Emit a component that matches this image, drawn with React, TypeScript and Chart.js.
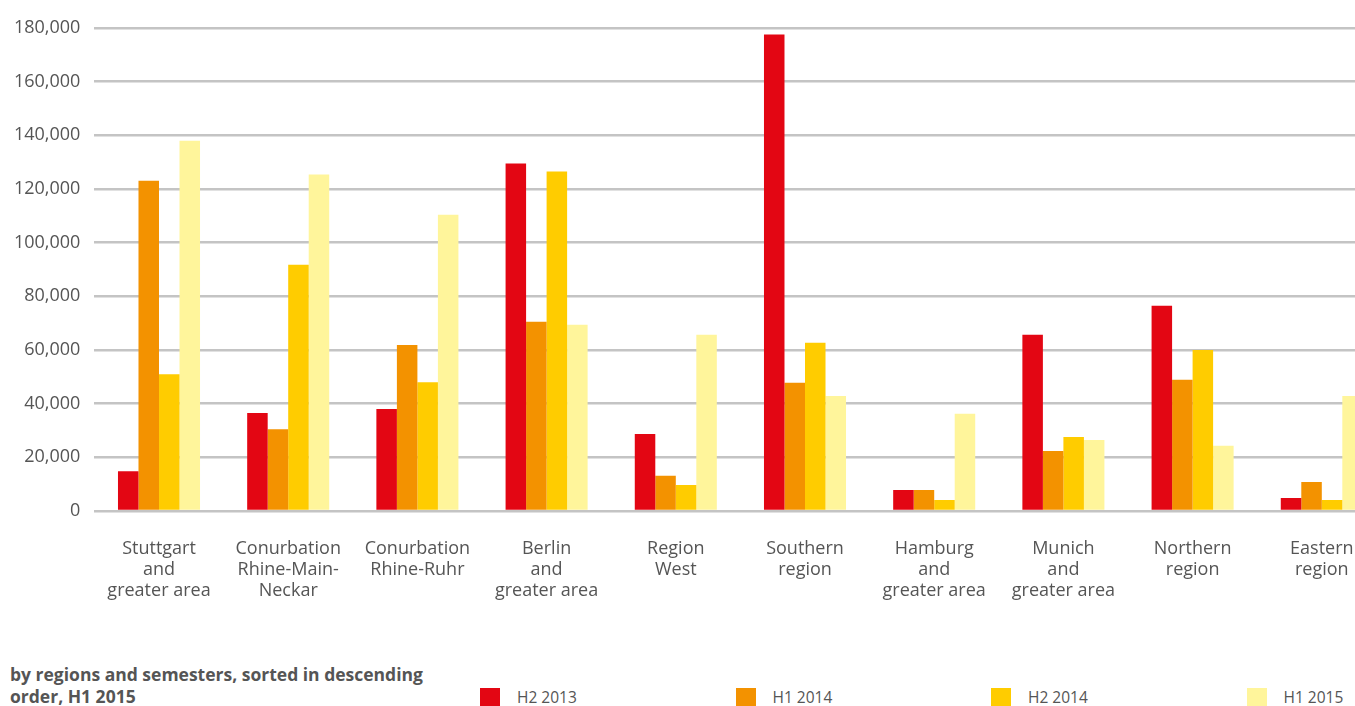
import React, { useEffect, useRef } from "react";
import { Chart, registerables } from "chart.js";

Chart.register(...registerables);

const categories: string[][] = [
  ["Stuttgart", "and", "greater area"],
  ["Conurbation", "Rhine-Main-", "Neckar"],
  ["Conurbation", "Rhine-Ruhr"],
  ["Berlin", "and", "greater area"],
  ["Region", "West"],
  ["Southern", "region"],
  ["Hamburg", "and", "greater area"],
  ["Munich", "and", "greater area"],
  ["Northern", "region"],
  ["Eastern", "region"],
];

const seriesNames = ["H2 2013", "H1 2014", "H2 2014", "H1 2015"];
const seriesColors = ["#E30613", "#F39200", "#FFCC00", "#FFF59B"];

const h2_2013 = [14800, 36500, 38000, 129500, 28700, 177600, 7800, 65700, 76500, 4800];
const h1_2014 = [123100, 30500, 61900, 70500, 13100, 47800, 7800, 22400, 48900, 10800];
const h2_2014 = [51000, 91800, 48000, 126500, 9700, 62700, 4100, 27600, 60000, 4100];
const h1_2015 = [138000, 125400, 110400, 69400, 65700, 42900, 36200, 26500, 24300, 42900];

const yMin = 0;
const yMax = 180000;
const yStep = 20000;

const subtitleLines = ["by regions and semesters, sorted in descending", "order, H1 2015"];

const FONT = "'Open Sans', 'Noto Sans', sans-serif";
const TEXT = "#555555";

export default function App() {
  const ref = useRef<HTMLCanvasElement | null>(null);

  useEffect(() => {
    if (!ref.current) return;
    const seriesValues = [h2_2013, h1_2014, h2_2014, h1_2015];
    const chart = new Chart(ref.current, {
      type: "bar",
      data: {
        labels: categories,
        datasets: seriesNames.map((name, i) => ({
          label: name,
          data: seriesValues[i],
          backgroundColor: seriesColors[i],
          borderWidth: 0,
          categoryPercentage: 0.635,
          barPercentage: 1.0,
        })),
      },
      options: {
        animation: false,
        responsive: false,
        devicePixelRatio: 1,
        layout: { padding: { top: 28, right: 13.6, bottom: 0, left: 0 } },
        plugins: {
          legend: { display: false },
          tooltip: { enabled: false },
          title: { display: false },
        },
        scales: {
          x: {
            grid: { display: false, drawTicks: false },
            border: { display: false },
            ticks: {
              autoSkip: false,
              maxRotation: 0,
              minRotation: 0,
              padding: 27,
              color: TEXT,
              font: { family: FONT, size: 18, lineHeight: 21 / 18 },
            },
            afterFit: (scale: any) => {
              scale.height = 129;
            },
          },
          y: {
            min: yMin,
            max: yMax,
            grid: { color: "#c4c4c4", lineWidth: 2.5, drawTicks: false },
            border: { display: false },
            ticks: {
              stepSize: yStep,
              padding: 14,
              color: TEXT,
              font: { family: FONT, size: 18 },
              callback: (v: any) => Number(v).toLocaleString("en-US"),
            },
            afterFit: (scale: any) => {
              scale.width = 94.4;
            },
          },
        },
      },
    });
    return () => chart.destroy();
  }, []);

  return (
    <div
      style={{
        position: "fixed",
        left: 0,
        top: 0,
        width: 1355,
        height: 706,
        overflow: "hidden",
        background: "#ffffff",
        fontFamily: FONT,
      }}
    >
      <canvas ref={ref} width={1400} height={640} style={{ position: "absolute", left: 0, top: 0, width: 1400, height: 640 }} />
      <div
        style={{
          position: "absolute",
          left: 10,
          top: 663,
          fontSize: 17.5,
          lineHeight: "22px",
          fontWeight: 700,
          color: TEXT,
          whiteSpace: "nowrap",
        }}
      >
        {subtitleLines.map((l, i) => (
          <div key={i}>{l}</div>
        ))}
      </div>
      {seriesNames.map((name, i) => (
        <div
          key={name}
          style={{ position: "absolute", left: 480 + i * 255.5, top: 688, height: 18, display: "flex", alignItems: "center" }}
        >
          <div style={{ width: 20, height: 18, background: seriesColors[i] }} />
          <div style={{ marginLeft: 17, fontSize: 15.5, color: TEXT, whiteSpace: "nowrap" }}>{name}</div>
        </div>
      ))}
    </div>
  );
}
